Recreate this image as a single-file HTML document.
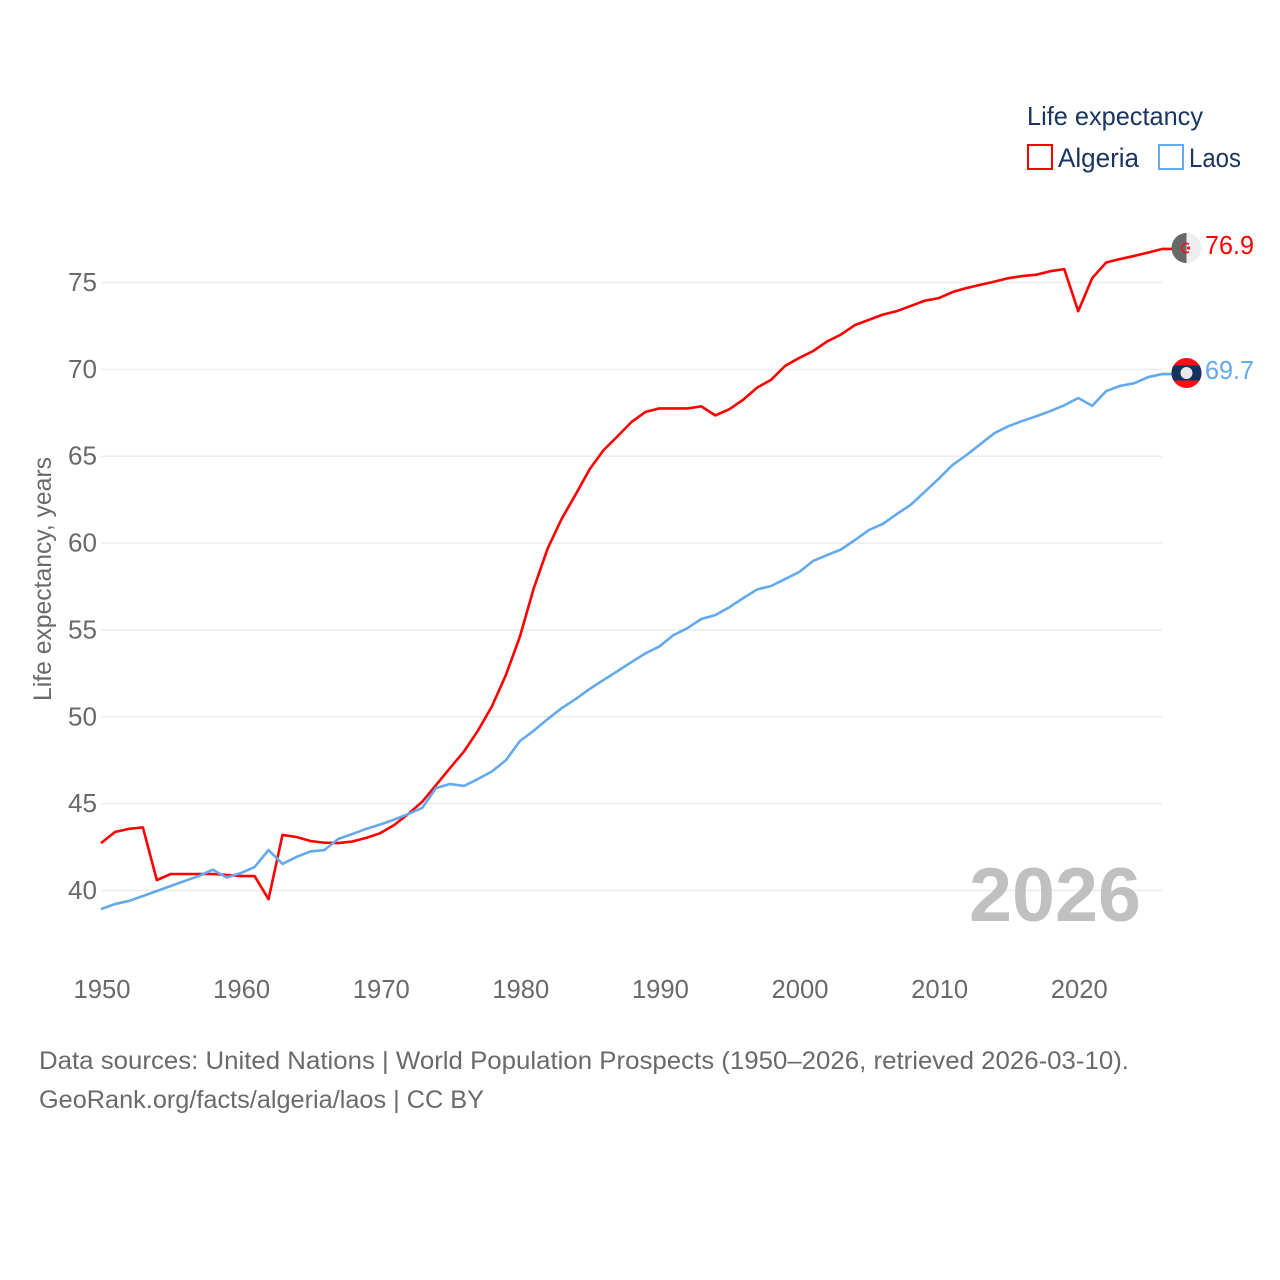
<!DOCTYPE html>
<html>
<head>
<meta charset="utf-8">
<style>
html,body{margin:0;padding:0;background:#fff;}
svg{display:block;}
text{font-family:"Liberation Sans",sans-serif;}
</style>
</head>
<body>
<svg id="chart" xmlns="http://www.w3.org/2000/svg" width="1280" height="1280" viewBox="0 0 1280 1280">
  <g id="grid"></g>
  <g id="ytick-group"></g>
  <g id="xtick-group"></g>
  <text transform="translate(51,701) rotate(-90)" font-size="25" fill="#6a6a6a" textLength="244" lengthAdjust="spacingAndGlyphs">Life expectancy, years</text>
  <text x="969" y="921" font-size="76" font-weight="bold" fill="#c0c0c0" textLength="172" lengthAdjust="spacingAndGlyphs">2026</text>
  <g id="series-group"></g>

  <g>
    <text x="1027" y="125" font-size="26" fill="#1a3560" textLength="176" lengthAdjust="spacingAndGlyphs">Life expectancy</text>
    <rect x="1028" y="145" width="24" height="24" fill="#fff" stroke="#ff0000" stroke-width="2"/>
    <text x="1058" y="167" font-size="27" fill="#1a3560" textLength="81" lengthAdjust="spacingAndGlyphs">Algeria</text>
    <rect x="1159" y="145" width="24" height="24" fill="#fff" stroke="#63a9ee" stroke-width="2"/>
    <text x="1189" y="167" font-size="27" fill="#1a3560" textLength="52" lengthAdjust="spacingAndGlyphs">Laos</text>
  </g>

  <defs>
    <clipPath id="flag-clip-a"><circle cx="1186.5" cy="248" r="15"/></clipPath>
    <clipPath id="flag-clip-l"><circle cx="1186.5" cy="373" r="15"/></clipPath>
  </defs>
  <g id="flag-algeria" clip-path="url(#flag-clip-a)">
    <rect x="1171" y="233" width="15.5" height="30" fill="#666966"/>
    <rect x="1186.5" y="233" width="15" height="30" fill="#eeeeee"/>
    <path d="M1189 244.2A4.6 4.6 0 1 0 1189 251.8" fill="none" stroke="#e8112d" stroke-width="1.6"/>
    <circle cx="1188.6" cy="248" r="1.6" fill="#e8112d"/>
  </g>
  <g id="flag-laos" clip-path="url(#flag-clip-l)">
    <rect x="1171" y="358" width="31" height="30" fill="#ff0f14"/>
    <rect x="1171" y="365.5" width="31" height="15" fill="#12335f"/>
    <circle cx="1186.5" cy="373" r="6" fill="#e9e9e9"/>
  </g>
  <text x="1205" y="254" font-size="26" fill="#ff0000" textLength="49" lengthAdjust="spacingAndGlyphs">76.9</text>
  <text x="1205" y="379" font-size="26" fill="#63a9ee" textLength="49" lengthAdjust="spacingAndGlyphs">69.7</text>

  <text x="39" y="1069" font-size="25" fill="#6a6a6a" textLength="1090" lengthAdjust="spacingAndGlyphs">Data sources: United Nations | World Population Prospects (1950–2026, retrieved 2026-03-10).</text>
  <text x="39" y="1108" font-size="25" fill="#6a6a6a" textLength="445" lengthAdjust="spacingAndGlyphs">GeoRank.org/facts/algeria/laos | CC BY</text>
</svg>
<script>
const startYear = 1950;
const yTickLabels = [40, 45, 50, 55, 60, 65, 70, 75];
const xTickLabels = [1950, 1960, 1970, 1980, 1990, 2000, 2010, 2020];
const algeriaValues = [
  42.73,43.37,43.55,43.63,40.6,40.95,40.95,40.95,40.95,40.9,
  40.83,40.83,39.5,43.2,43.08,42.85,42.75,42.73,42.82,43.03,
  43.3,43.77,44.4,45.1,46.07,47.05,48.0,49.2,50.6,52.4,
  54.6,57.4,59.7,61.4,62.8,64.25,65.35,66.15,66.97,67.55,
  67.75,67.75,67.75,67.87,67.35,67.7,68.25,68.95,69.4,70.2,
  70.65,71.05,71.6,72.0,72.55,72.85,73.15,73.35,73.65,73.95,
  74.1,74.45,74.68,74.87,75.05,75.25,75.37,75.45,75.65,75.77,
  73.35,75.25,76.15,76.35,76.53,76.72,76.93
];
const laosValues = [
  38.93,39.22,39.4,39.68,39.97,40.26,40.55,40.83,41.2,40.75,
  41.0,41.35,42.33,41.53,41.93,42.25,42.33,42.97,43.25,43.55,
  43.8,44.08,44.4,44.75,45.9,46.13,46.02,46.42,46.85,47.5,
  48.6,49.2,49.87,50.5,51.02,51.6,52.12,52.63,53.15,53.65,
  54.05,54.7,55.1,55.63,55.85,56.3,56.83,57.33,57.53,57.93,
  58.33,58.97,59.3,59.63,60.17,60.75,61.1,61.67,62.2,62.95,
  63.7,64.5,65.07,65.7,66.33,66.73,67.03,67.3,67.6,67.93,
  68.35,67.9,68.75,69.05,69.2,69.55,69.73
];

const NS = 'http://www.w3.org/2000/svg';
function xScale(year) { return 101 + (year - 1950) * (1061 / 76); }
function yScale(v) { return 890.5 - (v - 40) * (608 / 35); }
function make(tag, attrs, parent) {
  const el = document.createElementNS(NS, tag);
  for (const k in attrs) el.setAttribute(k, attrs[k]);
  parent.appendChild(el);
  return el;
}

const grid = document.getElementById('grid');
const yGroup = document.getElementById('ytick-group');
yTickLabels.forEach(function (v) {
  const line = make('line', {x1: 101, x2: 1162, y1: yScale(v), y2: yScale(v), stroke: '#ececec', 'stroke-width': 1.5}, grid);
  
  
  const t = make('text', {x: 97, y: yScale(v) + 8.5, 'text-anchor': 'end', 'font-size': 26, fill: '#6a6a6a', textLength: 29, lengthAdjust: 'spacingAndGlyphs'}, yGroup);
  
  
  t.textContent = v;
});

const xGroup = document.getElementById('xtick-group');
xTickLabels.forEach(function (yr) {
  const t = make('text', {x: xScale(yr) - 27.5, y: 998, 'font-size': 26, fill: '#6a6a6a', textLength: 57, lengthAdjust: 'spacingAndGlyphs'}, xGroup);
  
  
  t.textContent = yr;
});

function pathFor(values) {
  return values.map(function (v, i) {
    return (i ? 'L' : 'M') + xScale(startYear + i).toFixed(2) + ' ' + yScale(v).toFixed(2);
  }).join('');
}
function connectorFor(values) {
  const last = values[values.length - 1];
  return 'M' + xScale(startYear + values.length - 1).toFixed(2) + ' ' + yScale(last).toFixed(2) + 'H1172';
}
const seriesGroup = document.getElementById('series-group');

const algeriaLine = make('path', {d: pathFor(algeriaValues) + connectorFor(algeriaValues), fill: 'none', stroke: '#ff0000', 'stroke-width': 2.6, 'stroke-linejoin': 'round'}, seriesGroup);



const laosLine = make('path', {d: pathFor(laosValues) + connectorFor(laosValues), fill: 'none', stroke: '#63a9ee', 'stroke-width': 2.6, 'stroke-linejoin': 'round'}, seriesGroup);


</script>
</body>
</html>
